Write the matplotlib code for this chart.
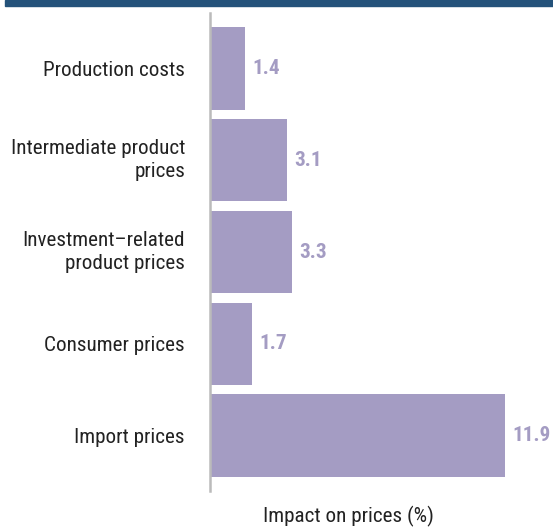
import matplotlib
matplotlib.use("Agg")
import matplotlib.pyplot as plt
from matplotlib.patches import Rectangle
from matplotlib.transforms import ScaledTranslation

categories = ["Production costs", "Intermediate product\nprices",
              "Investment\u2013related\nproduct prices", "Consumer prices", "Import prices"]
values = [1.4, 3.1, 3.3, 1.7, 11.9]
value_labels = ["1.4", "3.1", "3.3", "1.7", "11.9"]
xlabel = "Impact on prices (%)"

plt.rcParams['font.family'] = ['Roboto Condensed', 'Liberation Sans', 'DejaVu Sans']

W, H = 553, 530
fig = plt.figure(figsize=(W / 100, H / 100), dpi=100)

bar_color = "#a49cc3"
label_color = "#a49cc3"

ax_left, ax_right = 210, 545
ax_top, ax_bottom = 13, 491
ax = fig.add_axes([ax_left / W, 1 - ax_bottom / H, (ax_right - ax_left) / W, (ax_bottom - ax_top) / H])

y = list(range(len(categories)))
ax.barh(y, values, height=0.9, color=bar_color)
ax.set_ylim(4.6, -0.6)
ax.set_xlim(0, 13.5)
ax.set_yticks(y)
ax.set_yticklabels(categories, fontsize=15.2, color="#222222", ha="right", linespacing=1.27)
ax.tick_params(axis="y", length=0, pad=18)
ax.set_xticks([])
for lbl in ax.get_yticklabels():
    if "\n" in lbl.get_text():
        lbl.set_transform(lbl.get_transform() + ScaledTranslation(0, 4 / 100, fig.dpi_scale_trans))
for s in ["top", "right", "bottom"]:
    ax.spines[s].set_visible(False)
ax.spines["left"].set_color("#bbbbbb")
ax.spines["left"].set_linewidth(1.8)

for yi, v, t in zip(y, values, value_labels):
    ax.text(v + 0.3, yi, t, va="center", ha="left", fontsize=15.2,
            fontweight="bold", color=label_color)

fig.text(348 / W, 1 - 516 / H, xlabel, ha="center", va="center", fontsize=15.2, color="#222222")

fig.patches.append(Rectangle((5 / W, 1 - 6 / H), 1, 6 / H, transform=fig.transFigure,
                             color="#24527a", zorder=0))

fig.savefig("out.png", dpi=100)
